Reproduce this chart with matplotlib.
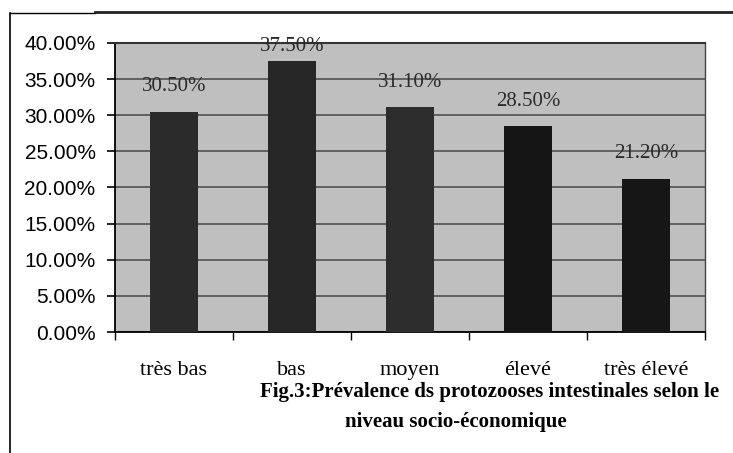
import numpy as np
import matplotlib
matplotlib.use("Agg")
import matplotlib.pyplot as plt
from matplotlib.lines import Line2D

# Données
niveaux = ["très bas", "bas", "moyen", "élevé", "très élevé"]
prevalence = [30.5, 37.5, 31.1, 28.5, 21.2]
etiquettes = ["30.50%", "37.50%", "31.10%", "28.50%", "21.20%"]
graduations = [0, 5, 10, 15, 20, 25, 30, 35, 40]
titre_1 = "Fig.3:Prévalence ds protozooses intestinales selon le"
titre_2 = "niveau socio-économique"

couleurs = ["#2b2b2b", "#272727", "#2d2d2d", "#151515", "#161616"]

fig = plt.figure(figsize=(7.33, 4.53), dpi=100)
ax = fig.add_axes([115 / 733, 1 - 332 / 453, 590 / 733, 289 / 453])
ax.set_facecolor("#bfbfbf")

x = np.arange(len(niveaux))
ax.bar(x, prevalence, width=0.4, color=couleurs, zorder=3)

# Etiquettes au-dessus des barres (limitées au haut du graphique)
for xi, v, lab in zip(x, prevalence, etiquettes):
    y = min(v + 3.45, 39.45)
    ax.text(xi, y, lab, ha="center", va="center", fontsize=15,
            family="Liberation Serif", color="#2a2a2a", zorder=4)

ax.set_xlim(-0.5, len(niveaux) - 0.5)
ax.set_ylim(0, 40)
ax.set_yticks(graduations)
ax.set_yticklabels(["%.2f%%" % g for g in graduations], fontsize=15,
                   family="Liberation Sans")
ax.yaxis.grid(True, color="#5a5a5a", linewidth=1.3, zorder=1)
ax.set_axisbelow(True)

ax.set_xticks(x)
ax.set_xticklabels(niveaux, fontsize=16, family="Liberation Serif")
ax.set_xticks(np.arange(len(niveaux) + 1) - 0.5, minor=True)
ax.tick_params(axis="x", which="major", length=0, pad=21)
ax.tick_params(axis="x", which="minor", length=6, width=1, direction="out")
ax.tick_params(axis="y", length=6, width=1.2, pad=8, direction="out")

for s in ["left", "bottom"]:
    ax.spines[s].set_color("black")
    ax.spines[s].set_linewidth(1.3)
ax.spines["top"].set_color("#333333")
ax.spines["top"].set_linewidth(1.5)
ax.spines["right"].set_color("#444444")
ax.spines["right"].set_linewidth(1.0)

# Légende sous le graphique
fig.text(490 / 733, 1 - 392 / 453, titre_1, ha="center", va="center",
         fontsize=15, fontweight="bold", family="Liberation Serif")
fig.text(456 / 733, 1 - 422 / 453, titre_2, ha="center", va="center",
         fontsize=15, fontweight="bold", family="Liberation Serif")

# Cadre
fig.add_artist(Line2D([10 / 733, 10 / 733], [0, 1 - 13 / 453], color="black", linewidth=1.2))
fig.add_artist(Line2D([10 / 733, 95 / 733], [1 - 13 / 453, 1 - 13 / 453], color="black", linewidth=1.0))
fig.add_artist(Line2D([95 / 733, 1], [1 - 12 / 453, 1 - 12 / 453], color="#222222", linewidth=2.0))

fig.savefig("out.png", dpi=100)
